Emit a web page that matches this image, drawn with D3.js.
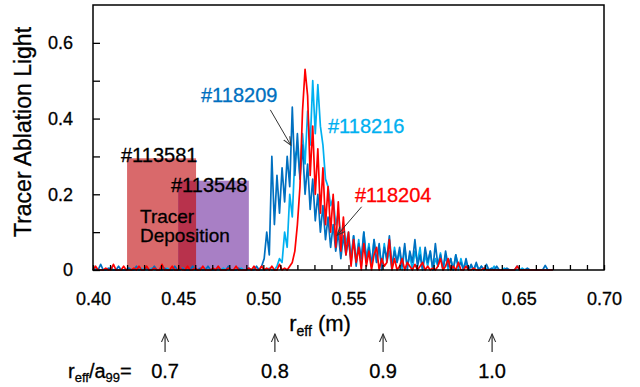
<!DOCTYPE html>
<html>
<head>
<meta charset="utf-8">
<script src="https://cdn.jsdelivr.net/npm/d3@7"></script>
<style>
body { margin: 0; background: #fff; }
svg text { font-family: "Liberation Sans", Arial, sans-serif; fill: #000; stroke: #000; stroke-width: 0.3px; }
</style>
</head>
<body>
<div id="chart"></div>
<script>
// sampling of the three traces (r_eff in m)
var sampleStart = 0.40;
var sampleStep = 0.0015;

// #118209 (dark blue)
var shot118209 = [
  0,0,0,0.015,0,0,0.005,0,0,0,0.01,0,0,0,0.005,0,0,0.01,0,0,
  0,0.005,0,0,0.01,0,0,0,0.005,0,0,0,0.01,0,0,0.005,0,0,0,0.01,
  0,0,0.005,0,0,0.01,0,0,0,0.005,0,0,0,0.01,0,0,0,0.005,0,0,
  0,0.005,0,0,0.01,0,0.01,0.03,0.1,0.04,0.3,0.12,0.25,0.15,0.27,0.18,0.3,0.22,0.43,0.25,
  0.36,0.24,0.33,0.2,0.28,0.16,0.24,0.13,0.2,0.1,0.17,0.08,0.14,0.06,0.12,0.05,0.1,0.03,0.09,0.04,
  0.08,0.02,0.09,0.01,0.07,0.03,0.1,0.02,0.06,0.01,0.08,0.02,0.07,0,0.06,0.03,0.09,0.01,0.05,0.02,
  0.06,0.01,0.07,0,0.05,0.02,0.08,0.01,0.04,0,0.06,0.02,0.05,0,0.07,0.01,0.04,0,0.05,0.01,
  0.03,0,0.04,0.01,0.02,0,0.03,0,0.015,0,0.02,0,0.01,0,0.015,0,0.005,0,0.01,0,
  0,0,0.005,0,0,0,0.01,0,0,0,0.005,0,0,0,0,0,0,0.012,0,0,
  0
];

// #118216 (light blue)
var shot118216 = [
  0,0.005,0,0,0,0,0,0.008,0,0,0,0,0,0,0.005,0,0,0,0,0.005,
  0,0,0,0.005,0,0,0,0,0,0.005,0,0,0,0,0,0.005,0,0,0,0,
  0,0,0,0,0.005,0,0,0,0,0,0,0.005,0,0,0,0,0,0,0.005,0,
  0,0,0,0.005,0,0,0,0,0,0.005,0,0,0.01,0.03,0.02,0.1,0.06,0.2,0.14,0.3,
  0.32,0.25,0.36,0.28,0.42,0.33,0.5,0.36,0.49,0.38,0.33,0.24,0.22,0.17,0.19,0.12,0.15,0.09,0.12,0.07,
  0.1,0.03,0.09,0.02,0.08,0.01,0.1,0.03,0.07,0.01,0.08,0.02,0.06,0.01,0.07,0.02,0.05,0,0.06,0.02,
  0.05,0,0.06,0.01,0.04,0,0.05,0.02,0.06,0,0.04,0.01,0.05,0,0.03,0.01,0.045,0,0.04,0,
  0.03,0,0.04,0,0.03,0.005,0.02,0,0.01,0,0.015,0,0.01,0,0.005,0,0,0.01,0,0,
  0,0.005,0,0,0,0,0,0,0.005,0,0,0,0,0,0,0,0,0,0,0,
  0
];

// #118204 (red)
var shot118204 = [
  0,0.01,0,0,0,0.005,0,0,0.015,0,0,0,0.01,0,0,0,0.005,0,0.01,0,
  0,0.01,0,0,0.005,0,0,0.015,0,0,0,0.01,0,0,0.005,0,0,0.01,0,0,
  0.005,0,0,0.01,0,0,0,0.005,0,0.01,0,0,0,0.005,0,0,0.01,0,0,0,
  0,0.005,0,0.01,0,0,0.01,0,0.005,0,0.01,0,0,0.015,0,0.005,0,0.01,0.02,0.05,
  0.12,0.22,0.42,0.53,0.46,0.25,0.38,0.2,0.32,0.15,0.27,0.12,0.22,0.1,0.2,0.06,0.18,0.05,0.14,0.04,
  0.1,0.01,0.08,0.02,0.06,0,0.07,0.01,0.05,0,0.04,0.06,0,0.03,0.01,0.02,0.08,0,0.03,0,
  0.01,0.03,0,0.02,0.01,0,0.015,0,0.01,0.02,0,0.01,0,0.005,0,0.01,0.03,0,0.01,0.03,
  0,0.01,0,0.02,0,0,0.01,0,0,0.005,0,0,0,0.005,0,0,0,0,0,0,
  0,0,0,0,0,0,0.01,0,0,0,0,0,0,0,0,0,0,0,0,0,
  0
];

// tracer deposition bands
var depositShots = ["#113581", "#113548"];
var depositFrom = [0.42, 0.45];
var depositTo = [0.4605, 0.4915];
var depositLevel = [0.295, 0.236];

// r_eff / a99 markers
var normLabels = ["0.7", "0.8", "0.9", "1.0"];
var normRadius = [0.4423, 0.5068, 0.5703, 0.6343];

var xTicks = d3.range(0, 31).map(d => 0.40 + d * 0.01);
var yTicks = [0, 0.1, 0.2, 0.3, 0.4, 0.5, 0.6];

var svgWidth = 640;
var svgHeight = 387;

var svg = d3.select("#chart").append("svg")
    .attr("width", svgWidth)
    .attr("height", svgHeight);

var x = d3.scaleLinear().domain([0.40, 0.70]).range([93, 604]);
var y = d3.scaleLinear().domain([0, 0.70]).range([270, 5]);

// deposition rectangles
var colors = ["#d9696b", "#a87fc5"];
depositShots.forEach(function (s, i) {
    svg.append("rect")
        .attr("x", x(depositFrom[i]))
        .attr("y", y(depositLevel[i]))
        .attr("width", x(depositTo[i]) - x(depositFrom[i]))
        .attr("height", y(0) - y(depositLevel[i]))
        .attr("fill", colors[i]);
});
// overlap of the two bands
svg.append("rect")
    .attr("x", x(depositFrom[1]))
    .attr("y", y(depositLevel[1]))
    .attr("width", x(depositTo[0]) - x(depositFrom[1]))
    .attr("height", y(0) - y(depositLevel[1]))
    .attr("fill", "#b8324c");

// traces
var line = d3.line()
    .x((d, i) => x(sampleStart + i * sampleStep))
    .y(d => y(d));

[[shot118216, "#00b0f0"], [shot118209, "#0070c0"], [shot118204, "#ff0000"]].forEach(function (t) {
    svg.append("path")
        .datum(t[0])
        .attr("fill", "none")
        .attr("stroke", t[1])
        .attr("stroke-width", 1.7)
        .attr("stroke-linejoin", "round")
        .attr("d", line);
});

// axes
var xAxis = svg.append("g")
    .attr("transform", "translate(0,270)")
    .call(d3.axisBottom(x)
        .tickValues(xTicks)
        .tickSize(-5)
        .tickSizeOuter(0)
        .tickPadding(22)
        .tickFormat(d => Math.round(d * 100) % 5 === 0 ? d3.format(".2f")(d) : ""));

var yAxis = svg.append("g")
    .attr("transform", "translate(93,0)")
    .call(d3.axisLeft(y)
        .tickValues(yTicks)
        .tickSize(-7)
        .tickSizeOuter(0)
        .tickPadding(20)
        .tickFormat(d => Math.round(d * 10) % 2 === 0 ? (d === 0 ? "0" : d3.format(".1f")(d)) : ""));

svg.selectAll(".domain").remove();
svg.selectAll(".tick line").attr("stroke", "#000").attr("stroke-width", 1.3);
svg.selectAll(".tick text").style("font-size", "18px").attr("fill", "#000");

// frame
svg.append("rect")
    .attr("x", 93).attr("y", 5)
    .attr("width", 604 - 93).attr("height", 270 - 5)
    .attr("fill", "none")
    .attr("stroke", "#000")
    .attr("stroke-width", 1.5);

// y title
svg.append("text")
    .attr("transform", "translate(31,132) rotate(-90)")
    .attr("text-anchor", "middle")
    .style("font-size", "23px")
    .text("Tracer Ablation Light");

// x title
var xt = svg.append("text")
    .attr("x", 320).attr("y", 331)
    .attr("text-anchor", "middle")
    .style("font-size", "22px");
xt.append("tspan").text("r");
xt.append("tspan").attr("dy", 5).style("font-size", "14px").text("eff");
xt.append("tspan").attr("dy", -5).text(" (m)");

// labels
var labels = [
    ["#113581", 121, 162, "#000"],
    ["#113548", 171, 192, "#000"],
    ["#118209", 201, 102, "#0070c0"],
    ["#118216", 328, 133, "#00b0f0"],
    ["#118204", 355, 202, "#ff0000"]
];
labels.forEach(function (l) {
    svg.append("text")
        .attr("x", l[1]).attr("y", l[2])
        .style("font-size", "20px")
        .style("fill", l[3])
        .style("stroke", l[3])
        .text(l[0]);
});
svg.append("text").attr("x", 140).attr("y", 223).style("font-size", "19px").text("Tracer");
svg.append("text").attr("x", 140).attr("y", 242).style("font-size", "19px").text("Deposition");

// arrow marker
var defs = svg.append("defs");
defs.append("marker")
    .attr("id", "head")
    .attr("viewBox", "0 0 10 10")
    .attr("refX", 9).attr("refY", 5)
    .attr("markerWidth", 9).attr("markerHeight", 9)
    .attr("markerUnits", "userSpaceOnUse")
    .attr("orient", "auto")
    .append("path")
    .attr("d", "M0,1 L9,5 L0,9")
    .attr("fill", "none")
    .attr("stroke", "#333")
    .attr("stroke-width", 1.2);

// callouts (from, to in data coords)
var callouts = [
    [[0.5041, 0.423], [0.5161, 0.33]],
    [[0.5577, 0.167], [0.5434, 0.092]]
];
callouts.forEach(function (c) {
    svg.append("line")
        .attr("x1", x(c[0][0])).attr("y1", y(c[0][1]))
        .attr("x2", x(c[1][0])).attr("y2", y(c[1][1]))
        .attr("stroke", "#333")
        .attr("stroke-width", 1)
        .attr("marker-end", "url(#head)");
});

// r_eff/a99 row
var norm = svg.append("g");
normRadius.forEach(function (r, i) {
    norm.append("line")
        .attr("x1", x(r)).attr("x2", x(r))
        .attr("y1", 352).attr("y2", 334)
        .attr("stroke", "#000")
        .attr("stroke-width", 1)
        .attr("marker-end", "url(#head)");
    norm.append("text")
        .attr("x", x(r)).attr("y", 378)
        .attr("text-anchor", "middle")
        .style("font-size", "20px")
        .text(normLabels[i]);
});
var nt = norm.append("text").attr("x", 68).attr("y", 378).style("font-size", "20px");
nt.append("tspan").text("r");
nt.append("tspan").attr("dy", 4).style("font-size", "13px").text("eff");
nt.append("tspan").attr("dy", -4).text("/a");
nt.append("tspan").attr("dy", 4).style("font-size", "13px").text("99");
nt.append("tspan").attr("dy", -4).text("=");
</script>
</body>
</html>
